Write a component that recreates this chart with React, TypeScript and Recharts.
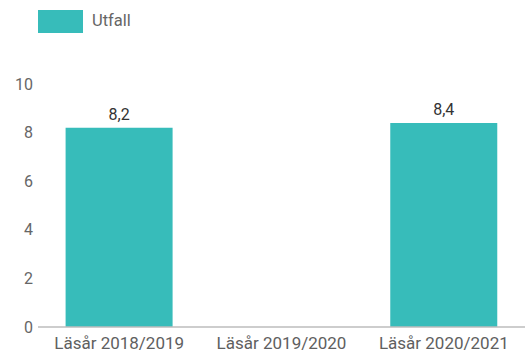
import React from "react";
import { BarChart, Bar, XAxis, YAxis, Legend, LabelList } from "recharts";

const categories = ["Läsår 2018/2019", "Läsår 2019/2020", "Läsår 2020/2021"];
const utfall: (number | null)[] = [8.2, null, 8.4];
const yTicks = [0, 2, 4, 6, 8, 10];

const data = categories.map((name, i) => ({ name, utfall: utfall[i] }));

const TEAL = "#37bcba";
const FONT = "Roboto, 'Noto Sans', sans-serif";

const formatValue = (v: unknown) =>
  typeof v === "number" ? v.toFixed(1).replace(".", ",") : "";

const LegendContent = () => (
  <div style={{ height: 84, position: "relative", fontFamily: FONT }}>
    <div
      style={{
        position: "absolute",
        left: 38,
        top: 10,
        width: 45,
        height: 23,
        background: TEAL,
      }}
    />
    <span
      style={{
        position: "absolute",
        left: 92,
        top: 11,
        fontSize: 16.5,
        color: "#666",
        lineHeight: "20px",
      }}
    >
      Utfall
    </span>
  </div>
);

export default function App() {
  return (
    <div style={{ position: "absolute", left: 0, top: 0 }}>
      <BarChart
        width={525}
        height={356}
        data={data}
        margin={{ top: 0, right: 0, bottom: 0, left: 0 }}
        barCategoryGap="17%"
      >
        <Legend verticalAlign="top" align="left" content={<LegendContent />} />
        <XAxis
          dataKey="name"
          tickLine={false}
          axisLine={{ stroke: "#bdbdbd", strokeWidth: 1.5 }}
          tick={{ fill: "#606060", fontSize: 17, fontFamily: FONT }}
          tickMargin={4}
          height={29}
          interval={0}
        />
        <YAxis
          domain={[0, 10]}
          ticks={yTicks}
          tickLine={false}
          axisLine={false}
          width={38}
          tick={{ fill: "#666", fontSize: 16, fontFamily: FONT }}
          tickSize={3}
        />
        <Bar dataKey="utfall" fill={TEAL} isAnimationActive={false}>
          <LabelList
            dataKey="utfall"
            position="top"
            offset={8}
            formatter={formatValue}
            style={{ fill: "#333", fontSize: 16, fontFamily: FONT }}
          />
        </Bar>
      </BarChart>
    </div>
  );
}
